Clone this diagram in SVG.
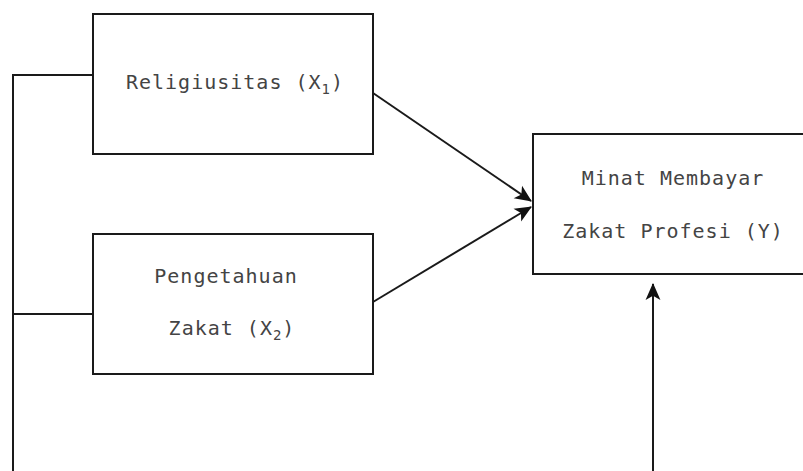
<svg xmlns="http://www.w3.org/2000/svg" width="803" height="471" viewBox="0 0 803 471">
  <style>
    .box { fill: #ffffff; stroke: #1a1a1a; stroke-width: 2; }
    .lbl { font-family: "DejaVu Sans Mono", "Liberation Mono", monospace; font-size: 20px; fill: #444444; text-anchor: middle; letter-spacing: 1px; }
    .sub { font-size: 14px; }
    .wire { fill: none; stroke: #1a1a1a; stroke-width: 2; }
  </style>
  <defs>
    <marker id="arrow" viewBox="0 0 16 16" refX="15" refY="8" markerWidth="17" markerHeight="17" markerUnits="userSpaceOnUse" orient="auto">
      <path d="M0,1 L16,8 L0,15 L4,8 z" fill="#111111"/>
    </marker>
  </defs>
  <rect width="803" height="471" fill="#ffffff"/>

  <g id="connectors">
    <path class="wire" d="M93,75 H13 V471"/>
    <path class="wire" d="M93,314 H13"/>
    <path class="wire" d="M373,93 L531,201" marker-end="url(#arrow)"/>
    <path class="wire" d="M373,302 L531,207" marker-end="url(#arrow)"/>
    <path class="wire" d="M653,471 V284" marker-end="url(#arrow)"/>
  </g>

  <g id="religiusitas">
    <rect class="box" x="93" y="14" width="280" height="140"/>
    <text class="lbl" x="235" y="89" letter-spacing="2">Religiusitas (X<tspan class="sub" dy="5">1</tspan><tspan dy="-5">)</tspan></text>
  </g>

  <g id="pengetahuan">
    <rect class="box" x="93" y="234" width="280" height="140"/>
    <text class="lbl" x="226" y="283">Pengetahuan</text>
    <text class="lbl" x="232" y="335">Zakat (X<tspan class="sub" dy="5">2</tspan><tspan dy="-5">)</tspan></text>
  </g>

  <g id="minat">
    <rect class="box" x="533" y="134" width="282" height="140"/>
    <text class="lbl" x="673" y="185">Minat Membayar</text>
    <text class="lbl" x="673" y="238">Zakat Profesi (Y)</text>
  </g>
</svg>
